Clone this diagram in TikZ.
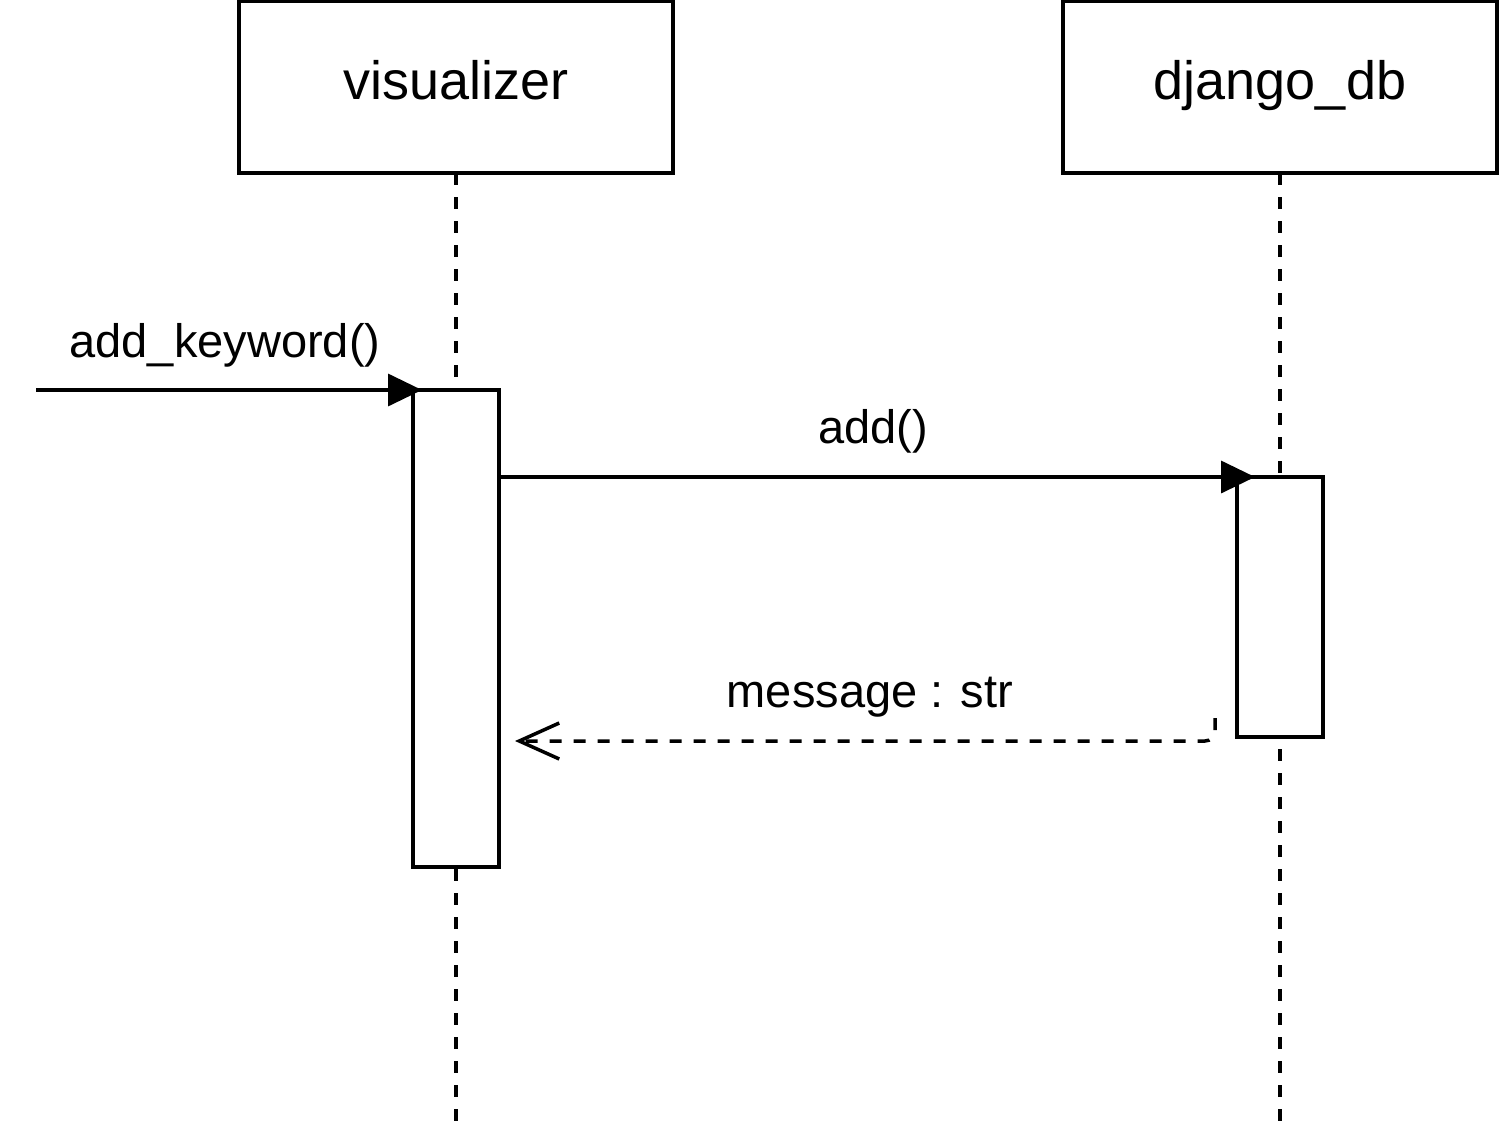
\documentclass[tikz,border=0pt]{standalone}
\usepackage{fontspec}
\setmainfont{Liberation Sans}
\usetikzlibrary{arrows.meta}
\begin{document}
\begin{tikzpicture}[x=1pt,y=-1pt,
  lane/.style={draw,line width=3.5pt,fill=white,minimum width=434pt,minimum height=172pt,inner sep=0pt,outer sep=0pt},
  actbox/.style={draw,line width=3.5pt,fill=white,minimum width=86pt,inner sep=0pt,outer sep=0pt},
  lifeline/.style={line width=3.5pt,dash pattern=on 12pt off 12pt},
  lbl/.style={font=\fontsize{47}{52}\selectfont,anchor=base,inner sep=0pt},
  title/.style={font=\fontsize{54}{60}\selectfont,anchor=base,inner sep=0pt},
  call/.style={line width=3.5pt,-{Triangle[length=34pt,width=32pt]}},
  ret/.style={line width=3.5pt,dash pattern=on 12pt off 12pt,-{Straight Barb[length=40pt,width=36pt,line width=3.5pt]}}]
\useasboundingbox (0,0) rectangle (1501,1137);
% participant boxes
\node[lane] (vis) at (456,87) {};
\node[lane] (db) at (1280,87) {};
\node[title] (vistext) at (456,100) {visualizer};
\node[title] (dbtext) at (1280,100) {django\_db};
% lifeline ends
\coordinate (visend) at (456,1122);
\coordinate (dbend) at (1280,1122);
\draw[lifeline] (vis.south) -- (visend);
\draw[lifeline] (db.south) -- (dbend);
% activations
\node[actbox,minimum height=477pt] (act1) at (456,628.5) {};
\node[actbox,minimum height=260pt] (act2) at (1280,607) {};
% incoming call
\coordinate (start) at (36,390);
\draw[call,shorten >=-9pt] (start) -- (act1.north west);
\node[lbl] (l1) at (225,357) {add\_keyword()};
% add()
\draw[call,shorten >=-18pt] (act1.east |- act2.north) -- (act2.north west);
\node[lbl] (l2) at (873,443) {add()};
% return
\coordinate (retstart) at ([xshift=-22pt,yshift=19pt]act2.south west);
\coordinate (retend) at (515,741);
\draw[ret,rounded corners=10pt] (retstart) |- (retend);
\node[lbl] (l3) at (870,707) {message : str};
\end{tikzpicture}
\end{document}
